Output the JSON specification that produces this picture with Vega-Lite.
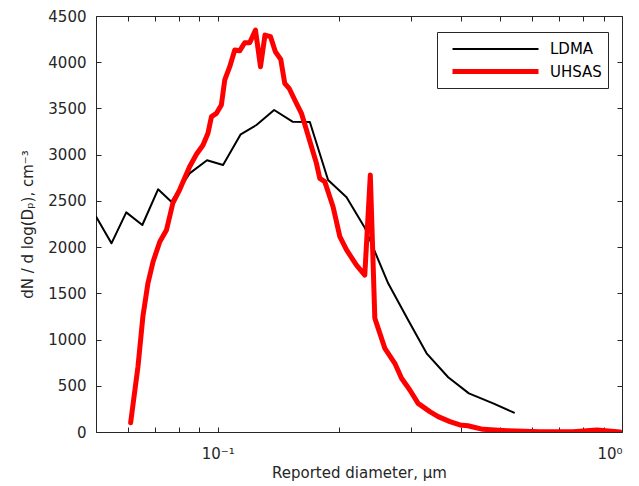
{
  "$schema": "https://vega.github.io/schema/vega-lite/v6.json",
  "autosize": "none",
  "width": 526,
  "height": 416,
  "padding": {"left": 96, "top": 16, "right": 17, "bottom": 54},
  "background": "white",
  "config": {
    "font": "DejaVu Sans",
    "view": {"stroke": null},
    "axis": {
      "grid": false,
      "domainColor": "#262626",
      "tickColor": "#262626",
      "labelColor": "#262626",
      "titleColor": "#262626",
      "labelFont": "DejaVu Sans",
      "titleFont": "DejaVu Sans",
      "labelFontSize": 15,
      "titleFontSize": 15,
      "titleFontWeight": "normal",
      "tickSize": -5,
      "domainWidth": 1,
      "tickWidth": 1
    }
  },
  "data": {
    "values": [
      {"series": "LDMA", "d": 0.0500, "v": 2330},
      {"series": "LDMA", "d": 0.0546, "v": 2041},
      {"series": "LDMA", "d": 0.0594, "v": 2376},
      {"series": "LDMA", "d": 0.0651, "v": 2239},
      {"series": "LDMA", "d": 0.0712, "v": 2625},
      {"series": "LDMA", "d": 0.0768, "v": 2491},
      {"series": "LDMA", "d": 0.0852, "v": 2798},
      {"series": "LDMA", "d": 0.0941, "v": 2939},
      {"series": "LDMA", "d": 0.1031, "v": 2888},
      {"series": "LDMA", "d": 0.1140, "v": 3220},
      {"series": "LDMA", "d": 0.1247, "v": 3321},
      {"series": "LDMA", "d": 0.1379, "v": 3483},
      {"series": "LDMA", "d": 0.1531, "v": 3357},
      {"series": "LDMA", "d": 0.1690, "v": 3353},
      {"series": "LDMA", "d": 0.1875, "v": 2726},
      {"series": "LDMA", "d": 0.2083, "v": 2539},
      {"series": "LDMA", "d": 0.2311, "v": 2210},
      {"series": "LDMA", "d": 0.2640, "v": 1608},
      {"series": "LDMA", "d": 0.2958, "v": 1211},
      {"series": "LDMA", "d": 0.3286, "v": 851},
      {"series": "LDMA", "d": 0.3716, "v": 592},
      {"series": "LDMA", "d": 0.4181, "v": 418},
      {"series": "LDMA", "d": 0.4801, "v": 310},
      {"series": "LDMA", "d": 0.5404, "v": 209},
      {"series": "UHSAS", "d": 0.0609, "v": 100},
      {"series": "UHSAS", "d": 0.0635, "v": 706},
      {"series": "UHSAS", "d": 0.0653, "v": 1247},
      {"series": "UHSAS", "d": 0.0672, "v": 1608},
      {"series": "UHSAS", "d": 0.0692, "v": 1842},
      {"series": "UHSAS", "d": 0.0719, "v": 2058},
      {"series": "UHSAS", "d": 0.0747, "v": 2185},
      {"series": "UHSAS", "d": 0.0775, "v": 2480},
      {"series": "UHSAS", "d": 0.0805, "v": 2620},
      {"series": "UHSAS", "d": 0.0852, "v": 2870},
      {"series": "UHSAS", "d": 0.0886, "v": 3004},
      {"series": "UHSAS", "d": 0.0920, "v": 3105},
      {"series": "UHSAS", "d": 0.0946, "v": 3231},
      {"series": "UHSAS", "d": 0.0965, "v": 3411},
      {"series": "UHSAS", "d": 0.0993, "v": 3447},
      {"series": "UHSAS", "d": 0.1021, "v": 3537},
      {"series": "UHSAS", "d": 0.1041, "v": 3808},
      {"series": "UHSAS", "d": 0.1071, "v": 3952},
      {"series": "UHSAS", "d": 0.1102, "v": 4132},
      {"series": "UHSAS", "d": 0.1134, "v": 4125},
      {"series": "UHSAS", "d": 0.1166, "v": 4211},
      {"series": "UHSAS", "d": 0.1200, "v": 4211},
      {"series": "UHSAS", "d": 0.1240, "v": 4348},
      {"series": "UHSAS", "d": 0.1276, "v": 3952},
      {"series": "UHSAS", "d": 0.1309, "v": 4294},
      {"series": "UHSAS", "d": 0.1351, "v": 4276},
      {"series": "UHSAS", "d": 0.1389, "v": 4113},
      {"series": "UHSAS", "d": 0.1432, "v": 4031},
      {"series": "UHSAS", "d": 0.1465, "v": 3772},
      {"series": "UHSAS", "d": 0.1502, "v": 3718},
      {"series": "UHSAS", "d": 0.1551, "v": 3591},
      {"series": "UHSAS", "d": 0.1611, "v": 3447},
      {"series": "UHSAS", "d": 0.1658, "v": 3267},
      {"series": "UHSAS", "d": 0.1706, "v": 3086},
      {"series": "UHSAS", "d": 0.1755, "v": 2906},
      {"series": "UHSAS", "d": 0.1788, "v": 2744},
      {"series": "UHSAS", "d": 0.1840, "v": 2708},
      {"series": "UHSAS", "d": 0.1893, "v": 2545},
      {"series": "UHSAS", "d": 0.1929, "v": 2437},
      {"series": "UHSAS", "d": 0.2005, "v": 2113},
      {"series": "UHSAS", "d": 0.2083, "v": 1969},
      {"series": "UHSAS", "d": 0.2204, "v": 1806},
      {"series": "UHSAS", "d": 0.2311, "v": 1698},
      {"series": "UHSAS", "d": 0.2385, "v": 2780},
      {"series": "UHSAS", "d": 0.2447, "v": 1230},
      {"series": "UHSAS", "d": 0.2591, "v": 905},
      {"series": "UHSAS", "d": 0.2742, "v": 743},
      {"series": "UHSAS", "d": 0.2849, "v": 581},
      {"series": "UHSAS", "d": 0.2987, "v": 454},
      {"series": "UHSAS", "d": 0.3131, "v": 310},
      {"series": "UHSAS", "d": 0.3347, "v": 220},
      {"series": "UHSAS", "d": 0.3510, "v": 166},
      {"series": "UHSAS", "d": 0.3753, "v": 112},
      {"series": "UHSAS", "d": 0.3972, "v": 76},
      {"series": "UHSAS", "d": 0.4157, "v": 68},
      {"series": "UHSAS", "d": 0.4529, "v": 29},
      {"series": "UHSAS", "d": 0.5192, "v": 14},
      {"series": "UHSAS", "d": 0.6266, "v": 3},
      {"series": "UHSAS", "d": 0.7561, "v": 3},
      {"series": "UHSAS", "d": 0.8676, "v": 22},
      {"series": "UHSAS", "d": 0.9886, "v": 0}
    ]
  },
  "layer": [
    {
      "mark": {"type": "line", "clip": true, "strokeJoin": "round", "strokeCap": "round"},
      "encoding": {
        "x": {
          "field": "d", "type": "quantitative",
          "scale": {"type": "log", "domain": [0.05, 1], "nice": false},
          "axis": {
            "orient": "bottom",
            "title": "Reported diameter,   μm",
            "values": [0.05, 0.06, 0.07, 0.08, 0.09, 0.1, 0.2, 0.3, 0.4, 0.5, 0.6, 0.7, 0.8, 0.9, 1],
            "labelExpr": "datum.value == 0.1 ? '10⁻¹' : (datum.value == 1 ? '10⁰' : '')",
            "labelPadding": 19,
            "titlePadding": 4
          }
        },
        "y": {
          "field": "v", "type": "quantitative",
          "scale": {"domain": [0, 4500], "nice": false},
          "axis": {
            "orient": "left",
            "title": "dN / d log(Dₚ), cm⁻³",
            "values": [0, 500, 1000, 1500, 2000, 2500, 3000, 3500, 4000, 4500],
            "format": "d",
            "labelPadding": 15,
            "titlePadding": 12
          }
        },
        "color": {
          "field": "series", "type": "nominal",
          "scale": {"domain": ["LDMA", "UHSAS"], "range": ["#000000", "#ff0000"]},
          "legend": {
            "title": null,
            "orient": "none",
            "legendX": 341,
            "legendY": 16,
            "symbolType": "M-0.3,0H8.3",
            "symbolSize": 400,
            "labelFontSize": 15,
            "labelFont": "DejaVu Sans",
            "labelColor": "#000000",
            "strokeColor": "#262626",
            "fillColor": "white",
            "padding": 6,
            "rowPadding": 2,
            "labelOffset": 82
          }
        },
        "strokeWidth": {
          "field": "series", "type": "nominal",
          "scale": {"domain": ["LDMA", "UHSAS"], "range": [2, 5]},
          "legend": null
        }
      }
    },
    {
      "mark": {"type": "line", "opacity": 0},
      "encoding": {
        "x": {
          "field": "d", "type": "quantitative",
          "axis": {
            "orient": "top", "title": null, "labels": false,
            "values": [0.05, 0.06, 0.07, 0.08, 0.09, 0.1, 0.2, 0.3, 0.4, 0.5, 0.6, 0.7, 0.8, 0.9, 1]
          }
        },
        "y": {
          "field": "v", "type": "quantitative",
          "axis": {
            "orient": "right", "title": null, "labels": false,
            "values": [0, 500, 1000, 1500, 2000, 2500, 3000, 3500, 4000, 4500]
          }
        },
        "detail": {"field": "series"}
      }
    }
  ],
  "resolve": {"axis": {"x": "independent", "y": "independent"}}
}
